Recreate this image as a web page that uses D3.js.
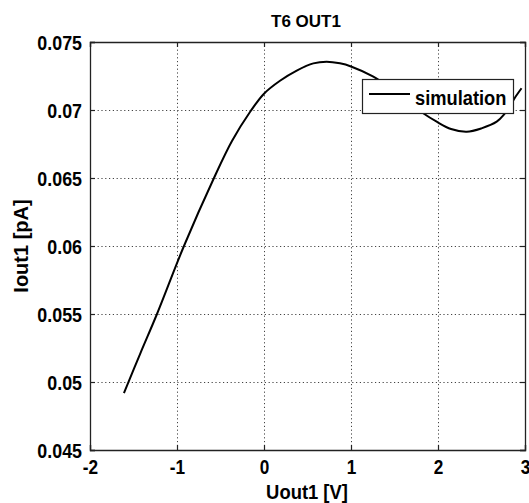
<!DOCTYPE html>
<html>
<head>
<meta charset="utf-8">
<script src="https://cdn.jsdelivr.net/npm/d3@7"></script>
<style>
  html, body { margin: 0; padding: 0; background: #fff; }
  svg { display: block; }
  text { font-family: "Liberation Sans", Arial, sans-serif; font-weight: bold; fill: #000; }
</style>
</head>
<body>
<script>
// ---- data ----
const uout = [-1.61, -1.42, -1.23, -0.92, -0.575, -0.368, -0.161, 0, 0.184, 0.376, 0.567, 0.72, 0.873, 1.0, 1.257, 1.5, 1.7, 1.83, 1.985, 2.15, 2.33, 2.5, 2.675, 2.75, 2.905, 2.96];
const iout = [0.04919, 0.05213, 0.055, 0.060, 0.065, 0.06772, 0.06985, 0.0712, 0.07215, 0.0729, 0.07343, 0.07355, 0.07343, 0.0732, 0.07245, 0.0714, 0.0704, 0.06976, 0.06914, 0.0686, 0.0684, 0.06865, 0.06914, 0.0696, 0.0711, 0.0716];
const xTicks = [-2, -1, 0, 1, 2, 3];
const xTickLabels = ["-2", "-1", "0", "1", "2", "3"];
const yTicks = [0.045, 0.05, 0.055, 0.06, 0.065, 0.07, 0.075];
const yTickLabels = ["0.045", "0.05", "0.055", "0.06", "0.065", "0.07", "0.075"];
const seriesName = "simulation";
const titleText = "T6 OUT1";
const xLabel = "Uout1 [V]";
const yLabel = "Iout1 [pA]";

// ---- layout ----
const W = 529, H = 503;
const L = 90, R = 525, T = 42, B = 450;

const svg = d3.select("body").append("svg").attr("width", W).attr("height", H);

const x = d3.scaleLinear().domain([-2, 3]).range([L, R]);
const y = d3.scaleLinear().domain([0.045, 0.075]).range([B, T]);

function condense(sel, ratio) {
  sel.each(function() {
    const len = this.getComputedTextLength();
    d3.select(this).attr("textLength", len * ratio).attr("lengthAdjust", "spacingAndGlyphs");
  });
}

// grid
const grid = svg.append("g");
grid.selectAll("line.gx").data(xTicks.slice(1, -1)).join("line")
  .attr("x1", d => Math.round(x(d)) + 0.5).attr("x2", d => Math.round(x(d)) + 0.5)
  .attr("y1", T).attr("y2", B)
  .attr("stroke", "#444").attr("stroke-width", 1).attr("stroke-dasharray", "1.2,2.6");
grid.selectAll("line.gy").data(yTicks.slice(1, -1)).join("line")
  .attr("y1", d => Math.round(y(d)) + 0.5).attr("y2", d => Math.round(y(d)) + 0.5)
  .attr("x1", L).attr("x2", R)
  .attr("stroke", "#444").attr("stroke-width", 1).attr("stroke-dasharray", "1.2,2.6");

// axes (MATLAB style: inward ticks, box)
const tl = 5;
const axB = svg.append("g").attr("transform", `translate(0,${B})`)
  .call(d3.axisBottom(x).tickValues(xTicks).tickSize(-tl).tickPadding(10).tickFormat((d, i) => xTickLabels[i]));
const axT = svg.append("g").attr("transform", `translate(0,${T})`)
  .call(d3.axisTop(x).tickValues(xTicks).tickSize(-tl).tickFormat(""));
const axL = svg.append("g").attr("transform", `translate(${L},0)`)
  .call(d3.axisLeft(y).tickValues(yTicks).tickSize(-tl).tickPadding(8).tickFormat((d, i) => yTickLabels[i]));
const axR = svg.append("g").attr("transform", `translate(${R},0)`)
  .call(d3.axisRight(y).tickValues(yTicks).tickSize(-tl).tickFormat(""));
[axB, axT, axL, axR].forEach(a => {
  a.select(".domain").attr("stroke", "#222").attr("stroke-width", 1.3);
  a.selectAll(".tick line").attr("stroke", "#222").attr("stroke-width", 1.2);
});
axB.selectAll(".tick text").attr("font-size", 20).attr("font-family", "Liberation Sans").attr("font-weight", "bold").attr("fill", "#000");
axL.selectAll(".tick text").attr("font-size", 21).attr("font-family", "Liberation Sans").attr("font-weight", "bold").attr("fill", "#000").attr("dy", "0.36em");
condense(axB.selectAll(".tick text"), 0.86);
condense(axL.selectAll(".tick text"), 0.85);

// curve
const clip = svg.append("clipPath").attr("id", "clip").append("rect")
  .attr("x", L).attr("y", T).attr("width", R - L).attr("height", B - T);
const pts = uout.map((u, i) => [u, iout[i]]);
svg.append("path").datum(pts)
  .attr("clip-path", "url(#clip)")
  .attr("fill", "none").attr("stroke", "#000").attr("stroke-width", 2)
  .attr("stroke-linejoin", "round")
  .attr("d", d3.line().x(d => x(d[0])).y(d => y(d[1])).curve(d3.curveCatmullRom.alpha(0.5)));

// legend
const lg = svg.append("g");
lg.append("rect").attr("x", 362.5).attr("y", 79.5).attr("width", 151).attr("height", 34)
  .attr("fill", "#fff").attr("stroke", "#222").attr("stroke-width", 1.2);
lg.append("line").attr("x1", 369).attr("x2", 410).attr("y1", 94).attr("y2", 94)
  .attr("stroke", "#000").attr("stroke-width", 2);
const lt = lg.append("text").attr("x", 415).attr("y", 104.5).attr("font-size", 21).text(seriesName);
condense(lt, 0.87);

// title & labels
const tt = svg.append("text").attr("x", 306).attr("y", 27).attr("text-anchor", "middle").attr("font-size", 17).text(titleText);
const xl = svg.append("text").attr("x", 307).attr("y", 499).attr("text-anchor", "middle").attr("font-size", 20).text(xLabel);
condense(xl, 0.92);
const yl = svg.append("text").attr("transform", `translate(28,246) rotate(-90)`).attr("text-anchor", "middle").attr("font-size", 20).text(yLabel);
</script>
</body>
</html>
